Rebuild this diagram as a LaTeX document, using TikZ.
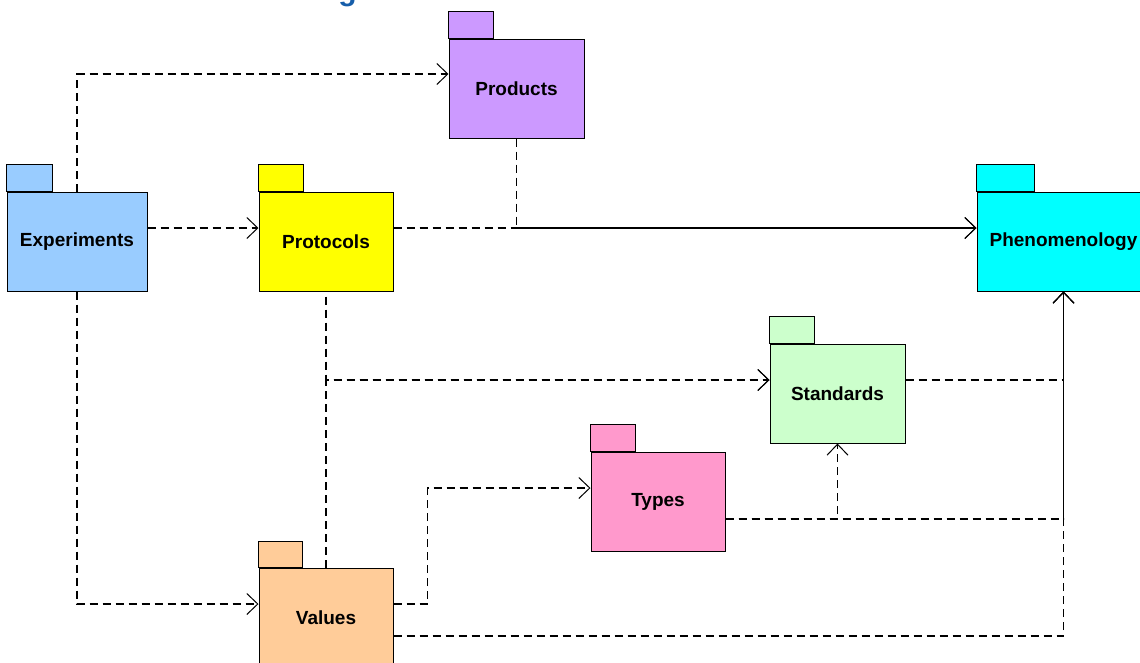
\documentclass[tikz,border=0pt]{standalone}
\usepackage{fontspec}
\setmainfont{Liberation Sans}
\usetikzlibrary{arrows.meta}
\definecolor{titleblue}{RGB}{22,94,170}
\definecolor{cExp}{HTML}{99CCFF}
\definecolor{cProt}{HTML}{FFFF00}
\definecolor{cProd}{HTML}{CC99FF}
\definecolor{cPhen}{HTML}{00FFFF}
\definecolor{cStd}{HTML}{CCFFCC}
\definecolor{cTypes}{HTML}{FF99CC}
\definecolor{cVal}{HTML}{FFCC99}
\tikzset{
  pkg/.style={draw=black, line width=1pt, inner sep=0pt,
    minimum width=135pt, minimum height=99pt,
    font=\bfseries\fontsize{19}{22}\selectfont},
  pkgtab/.style={draw=black, line width=1pt},
  dep/.style={line width=1.7pt, dash pattern=on 8pt off 5pt,
    -{Straight Barb[length=11pt,width=21pt,line width=1pt]}}
}
\begin{document}
\begin{tikzpicture}[x=1pt,y=-1pt]
\clip (0,0) rectangle (1140,662);
\fill[white] (0,0) rectangle (1140,662);

% title fragment at the top edge
\node[anchor=base, inner sep=0pt, text=titleblue,
  font=\bfseries\fontsize{30}{30}\selectfont] (title) at (347.5,0.5) {g};

% packages: body node plus tab
\node[pkg, fill=cExp, minimum width=140pt] (exp) at (77,241.5) {Experiments};
\draw[pkgtab, fill=cExp] (exp.north west) rectangle ++(46,-27);

\node[pkg, fill=cProt, minimum width=134pt] (prot) at (326,241.5) {Protocols};
\draw[pkgtab, fill=cProt] (prot.north west) rectangle ++(45,-27);

\node[pkg, fill=cProd] (prod) at (516.5,88.5) {Products};
\draw[pkgtab, fill=cProd] (prod.north west) rectangle ++(45,-27);

\node[pkg, fill=cPhen, minimum width=173pt] (phen) at (1063.5,241.5) {Phenomenology};
\draw[pkgtab, fill=cPhen] (phen.north west) rectangle ++(58,-27);

\node[pkg, fill=cStd] (std) at (837.5,393.5) {Standards};
\draw[pkgtab, fill=cStd] (std.north west) rectangle ++(45,-27);

\node[pkg, fill=cTypes, minimum width=134pt] (types) at (658,501.5) {Types};
\draw[pkgtab, fill=cTypes] (types.north west) rectangle ++(45,-27);

\node[pkg, fill=cVal, minimum width=134pt] (val) at (326,617.5) {Values};
\draw[pkgtab, fill=cVal] (val.north west) rectangle ++(44,-26);

% dependencies
\draw[dep] (exp.north) |- ([yshift=14.5pt]prod.west);
\draw[dep] ([yshift=13.5pt]exp.east) -- ([yshift=13.5pt]prot.west);
\draw[dep] (exp.south) |- ([yshift=13.5pt]val.west);
\draw[dep] ([yshift=13.5pt]prot.east) -- ([yshift=13.5pt]phen.west);
\draw[dep] (prod.south) |- ([yshift=13.5pt]phen.west);
\draw[dep, dash phase=8pt] (prot.south) |- ([yshift=13.5pt]std.west);
\draw[dep] (val.north) |- ([yshift=13.5pt]std.west);
\draw[dep] ([yshift=13.5pt]std.east) -| (phen.south);
\draw[dep] ([yshift=-17.5pt]types.east) -| (std.south);
\draw[dep] ([yshift=-17.5pt]types.east) -| (phen.south);
\draw[dep] ([yshift=13.5pt]val.east) -- ++(34,0) |- ([yshift=13.5pt]types.west);
\draw[dep] ([yshift=-18.5pt]val.east) -| (phen.south);
\end{tikzpicture}
\end{document}
